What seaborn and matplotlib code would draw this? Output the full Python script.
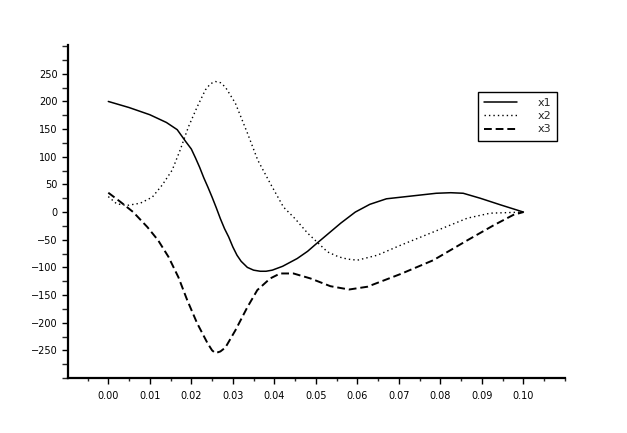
import numpy as np
import pandas as pd
import matplotlib
matplotlib.use("Agg")
import matplotlib.pyplot as plt
import matplotlib.ticker as mticker
import seaborn as sns

# values
x1_t = [0.000, 0.005, 0.010, 0.014, 0.0166, 0.0186, 0.020, 0.021, 0.022, 0.023,
        0.024, 0.025, 0.026, 0.027, 0.028, 0.029, 0.030, 0.031, 0.032, 0.0335,
        0.035, 0.0366, 0.038, 0.0395, 0.042, 0.0455, 0.048, 0.050, 0.053, 0.056,
        0.0595, 0.063, 0.067, 0.073, 0.079, 0.0825, 0.0855, 0.0896, 0.0945, 0.100]
x1_v = [200, 189, 176, 162, 149, 128, 114, 98, 81, 62,
        45, 27, 8, -12, -30, -45, -63, -78, -89, -100,
        -105, -107, -107, -105, -98, -84, -71, -58, -39, -20,
        0, 14, 24, 29, 34, 35, 34, 25, 13, 0]

x2_t = [0.000, 0.002, 0.0045, 0.0077, 0.0106, 0.013, 0.0154, 0.0173, 0.0193, 0.0214,
        0.0234, 0.0246, 0.0258, 0.027, 0.0282, 0.0306, 0.0335, 0.036, 0.039, 0.0422,
        0.045, 0.048, 0.0528, 0.0555, 0.0576, 0.060, 0.0648, 0.0704, 0.0783, 0.0865,
        0.092, 0.100]
x2_v = [28, 15, 12, 16, 27, 49, 76, 112, 154, 190,
        221, 232, 236, 234, 226, 197, 143, 94, 52, 9,
        -12, -38, -72, -81, -85, -87, -78, -60, -36, -11,
        -2, 0]

x3_t = [0.000, 0.003, 0.006, 0.0094, 0.012, 0.0145, 0.0169, 0.019, 0.0214, 0.0239,
        0.025, 0.0258, 0.027, 0.0282, 0.0306, 0.0335, 0.0359, 0.039, 0.0414, 0.0446,
        0.0487, 0.0535, 0.058, 0.0624, 0.0704, 0.0783, 0.0865, 0.0928, 0.0976, 0.100]
x3_v = [35, 18, 0, -27, -51, -81, -118, -159, -201, -237,
        -250, -255, -252, -245, -214, -172, -141, -120, -111, -111,
        -120, -134, -140, -135, -112, -87, -51, -24, -5, 0]

series_names = ["x1", "x2", "x3"]
x_ticks = [0.00, 0.01, 0.02, 0.03, 0.04, 0.05, 0.06, 0.07, 0.08, 0.09, 0.10]
y_ticks = [-250, -200, -150, -100, -50, 0, 50, 100, 150, 200, 250]

sns.set_style("ticks")
plt.rcParams["font.family"] = ["DejaVu Sans"]

fig = plt.figure(figsize=(6.27, 4.33), dpi=100)
ax = fig.add_axes([0.1085, 0.127, 0.7925, 0.769])

styles = {
    "x1": dict(linestyle="-", linewidth=1.1),
    "x2": dict(linestyle=(0, (1, 2.2)), linewidth=1.0),
    "x3": dict(linestyle=(0, (4, 2)), linewidth=1.4),
}
for name, t, v in zip(series_names, [x1_t, x2_t, x3_t], [x1_v, x2_v, x3_v]):
    df = pd.DataFrame({"t": t, "v": v})
    sns.lineplot(data=df, x="t", y="v", ax=ax, color="black", sort=False,
                 label=name, **styles[name])

ax.set_xlim(-0.0097, 0.110)
ax.set_ylim(-300, 302)
ax.set_xticks(x_ticks)
ax.set_xticklabels([f"{t:.2f}" for t in x_ticks])
ax.set_yticks(y_ticks)
ax.xaxis.set_minor_locator(mticker.MultipleLocator(0.005))
ax.yaxis.set_minor_locator(mticker.MultipleLocator(25))
ax.set_xlabel("")
ax.set_ylabel("")

for side in ["top", "right"]:
    ax.spines[side].set_visible(False)
for side in ["left", "bottom"]:
    ax.spines[side].set_linewidth(1.6)
    ax.spines[side].set_color("black")

ax.tick_params(axis="both", which="major", direction="out", length=4.5,
               width=1, labelsize=7, colors="black")
ax.tick_params(axis="x", which="major", pad=5)
ax.tick_params(axis="y", which="major", pad=3)
ax.tick_params(axis="x", which="minor", direction="out", length=2.5, width=1)
ax.tick_params(axis="y", which="minor", direction="out", length=4.5, width=1)

leg = ax.legend(loc="upper left", bbox_to_anchor=(0.825, 0.86), fontsize=8,
                frameon=True, fancybox=False, edgecolor="black",
                handlelength=3.0, handletextpad=1.8, labelspacing=0.3,
                borderpad=0.55, borderaxespad=0)
leg.get_frame().set_linewidth(1.0)
leg.get_frame().set_alpha(1)

fig.savefig("out.png", dpi=100, facecolor="white")
